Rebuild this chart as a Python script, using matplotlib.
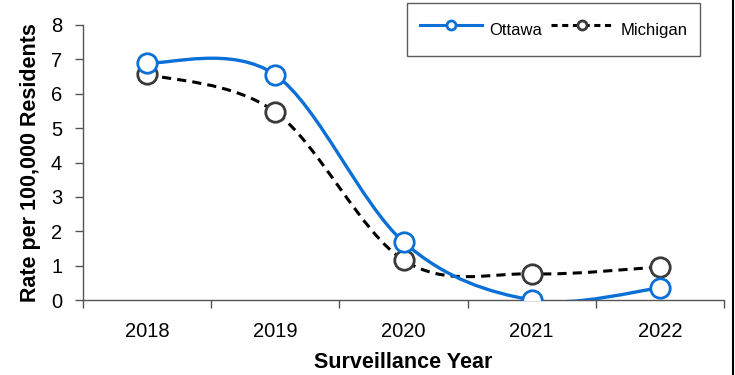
import matplotlib
matplotlib.use("Agg")
import matplotlib.pyplot as plt
from matplotlib.path import Path
from matplotlib.patches import PathPatch
from matplotlib.lines import Line2D
import numpy as np

years = ["2018", "2019", "2020", "2021", "2022"]
ottawa = [6.9, 6.55, 1.69, 0.0, 0.35]
michigan = [6.57, 5.47, 1.16, 0.76, 0.96]

plt.rcParams['font.family'] = ['Liberation Sans', 'DejaVu Sans']

BLUE = "#0a6fd6"
GRAY = "#3a3a3a"

fig = plt.figure(figsize=(7.35, 3.75), dpi=100)
ax = fig.add_axes([83/735, 75/375, (724-83)/735, 275/375])

def smooth_path(xs, ys):
    pts = np.column_stack([xs, ys]).astype(float)
    n = len(pts)
    verts = [pts[0]]
    codes = [Path.MOVETO]
    for i in range(n - 1):
        p0 = pts[i - 1] if i > 0 else pts[i]
        p1 = pts[i]
        p2 = pts[i + 1]
        p3 = pts[i + 2] if i + 2 < n else pts[i + 1]
        c1 = p1 + (p2 - p0) / 6.0
        c2 = p2 - (p3 - p1) / 6.0
        verts += [c1, c2, p2]
        codes += [Path.CURVE4] * 3
    return Path(verts, codes)

x = np.arange(len(years))
ax.add_patch(PathPatch(smooth_path(x, michigan), facecolor="none", edgecolor="black",
                       lw=2.2, linestyle=(0, (3, 2)), zorder=2))
ax.add_patch(PathPatch(smooth_path(x, ottawa), facecolor="none", edgecolor=BLUE,
                       lw=2.4, zorder=3))
ax.plot(x, michigan, linestyle="none", marker="o", ms=14, mfc="white", mec=GRAY, mew=2, zorder=4)
ax.plot(x, ottawa, linestyle="none", marker="o", ms=14, mfc="white", mec=BLUE, mew=2, zorder=5)

ax.set_xlim(-0.5, len(years) - 0.5)
ax.set_ylim(0, 8)
ax.set_yticks(range(0, 9))
ax.set_xticks(x)
ax.set_xticklabels(years)
ax.set_xticks(np.arange(-0.5, len(years)), minor=True)
ax.tick_params(axis='x', which='major', length=0, pad=16, labelsize=14.5)
ax.tick_params(axis='x', which='minor', length=6, width=1, color="#555555")
ax.tick_params(axis='y', length=6, width=1, color="#555555", labelsize=14.5, pad=9)
for s in ["top", "right"]:
    ax.spines[s].set_visible(False)
for s in ["left", "bottom"]:
    ax.spines[s].set_color("#555555")
    ax.spines[s].set_linewidth(1)
ax.set_ylabel("Rate per 100,000 Residents", fontsize=15.5, fontweight="bold", labelpad=7)
ax.set_xlabel("Surveillance Year", fontsize=15.5, fontweight="bold", labelpad=8)

handles = [Line2D([], [], color=BLUE, lw=2.2, marker="o", ms=6.5, mfc="white", mec=BLUE, mew=2),
           Line2D([], [], color="black", lw=2.2, linestyle=(0, (2, 1.5)), marker="o", ms=6.5,
                  mfc="white", mec=GRAY, mew=2)]
leg = fig.legend(handles, ["Ottawa", "Michigan"], loc="upper left",
                 bbox_to_anchor=(407/735, 1 - 3/375), borderaxespad=0, ncol=2, fontsize=12,
                 frameon=True, fancybox=False, edgecolor="#333333",
                 handlelength=3.75, handleheight=2.2, columnspacing=0.5, borderpad=0.75,
                 handletextpad=0.45)
leg.get_frame().set_linewidth(1)

fig.add_artist(Line2D([733/735, 733/735], [0, 1], color="black", lw=1.5, transform=fig.transFigure))

fig.savefig("out.png", dpi=100)
